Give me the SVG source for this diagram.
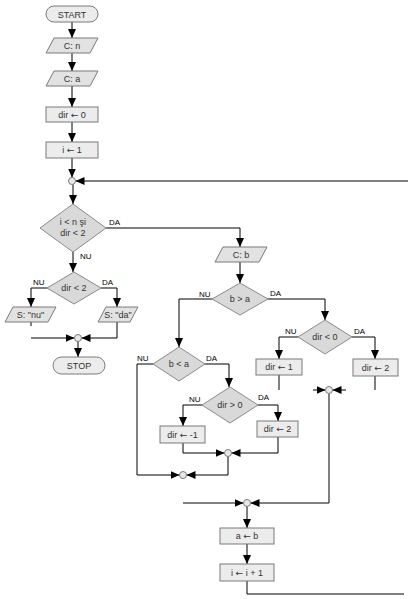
<svg xmlns="http://www.w3.org/2000/svg" width="408" height="599" viewBox="0 0 408 599">
<defs>
<marker id="ah" markerUnits="userSpaceOnUse" markerWidth="10" markerHeight="10" viewBox="-9 -5 10 10" refX="0" refY="0" orient="auto">
<path d="M-9,-4 L0,0 L-9,4 z" fill="#000"/>
</marker>
</defs>
<style>
.bx{fill:#ececec;stroke:#7a7a7a;stroke-width:1}
.pg{fill:#e2e2e2;stroke:#7a7a7a;stroke-width:1}
.dm{fill:#d9d9d9;stroke:#8a8a8a;stroke-width:1}
.tm{fill:#ececec;stroke:#7a7a7a;stroke-width:1}
.jn{fill:#e8e8e8;stroke:#7a7a7a;stroke-width:1}
.t{font-family:"Liberation Sans",Arial,sans-serif;font-size:9px;fill:#333;text-anchor:middle}
.ar{font-family:"DejaVu Sans",sans-serif;font-size:9px}
.lb{font-family:"Liberation Sans",Arial,sans-serif;font-size:8px;fill:#000}
.c{fill:none;stroke:#000;stroke-width:1}
.a{fill:none;stroke:#000;stroke-width:1;marker-end:url(#ah)}
</style>
<rect width="408" height="599" fill="#fff"/>
<g id="connectors">
<path class="a" d="M72,22 V38"/>
<path class="a" d="M72,53 V71"/>
<path class="a" d="M72,86 V107"/>
<path class="a" d="M72,122 V142"/>
<path class="a" d="M72,158 V177.5"/>
<path class="a" d="M408,181 H75.5"/>
<path class="a" d="M73,184.5 V204"/>
<path class="a" d="M106,228 H240 V247"/>
<path class="a" d="M73,252 V272"/>
<path class="a" d="M47,288 H31 V307"/>
<path class="a" d="M101,288 H117 V307"/>
<path class="c" d="M31,322 V326"/>
<path class="a" d="M31,338 H74.5"/>
<path class="a" d="M117,322 V338 H81.5"/>
<path class="a" d="M78,341.5 V357"/>
<path class="a" d="M240,262 V283"/>
<path class="a" d="M212,299 H179 V347"/>
<path class="a" d="M268,299 H325 V320"/>
<path class="a" d="M298,337 H279 V359"/>
<path class="a" d="M352,337 H375 V359"/>
<path class="c" d="M279,375 V390"/>
<path class="c" d="M375,376 V390"/>
<path class="a" d="M313,390 H325.5"/>
<path class="a" d="M346,390 H332.5"/>
<path class="a" d="M329,393.5 V503 H250.5"/>
<path class="a" d="M153,364 H137 V475 H179.5"/>
<path class="a" d="M205,364 H229 V387"/>
<path class="a" d="M202,405 H183 V426"/>
<path class="a" d="M258,405 H278 V421"/>
<path class="a" d="M183,443 V453 H224.5"/>
<path class="a" d="M278,437 V453 H231.5"/>
<path class="a" d="M228,456.5 V475 H186.5"/>
<path class="a" d="M183,503 H243.5"/>
<path class="a" d="M247,506.5 V528"/>
<path class="a" d="M247,544 V564"/>
<path class="c" d="M247,581 V594 H404"/>
</g>
<g id="start"><rect class="tm" x="46" y="6" width="52" height="16" rx="8"/><text class="t" x="72" y="17.5">START</text></g>
<g id="read-n"><polygon class="pg" points="54,38 98,38 90,53 46,53"/><text class="t" x="72" y="48.5">C: n</text></g>
<g id="read-a"><polygon class="pg" points="54,71 98,71 90,86 46,86"/><text class="t" x="72" y="81.5">C: a</text></g>
<g id="dir0"><rect class="bx" x="46" y="107" width="52" height="15"/><text class="t" x="72" y="117.5">dir <tspan class="ar">←</tspan> 0</text></g>
<g id="i1"><rect class="bx" x="46" y="142" width="52" height="16"/><text class="t" x="72" y="153">i <tspan class="ar">←</tspan> 1</text></g>
<g id="j1"><circle class="jn" cx="72" cy="181" r="3.5"/></g>
<g id="cond1"><polygon class="dm" points="73,204 106,228 73,252 40,228"/><text class="t" x="73" y="225">i &lt; n şi</text><text class="t" x="73" y="236">dir &lt; 2</text><text class="lb" x="109" y="225">DA</text><text class="lb" x="80" y="259">NU</text></g>
<g id="cond2"><polygon class="dm" points="74,272 101,288 74,304 47,288"/><text class="t" x="74" y="291">dir &lt; 2</text><text class="lb" x="33" y="285">NU</text><text class="lb" x="102" y="285">DA</text></g>
<g id="out-nu"><polygon class="pg" points="13,307 56,307 48,322 5,322"/><text class="t" x="30.5" y="317.5">S: "nu"</text></g>
<g id="out-da"><polygon class="pg" points="106,307 138,307 130,322 98,322"/><text class="t" x="118" y="317.5">S: "da"</text></g>
<g id="j2"><circle class="jn" cx="78" cy="338" r="3.5"/></g>
<g id="stop"><rect class="tm" x="53" y="357" width="52" height="17" rx="8.5"/><text class="t" x="79" y="368.5">STOP</text></g>
<g id="read-b"><polygon class="pg" points="223,247 267,247 259,262 215,262"/><text class="t" x="241" y="257.5">C: b</text></g>
<g id="cond-bga"><polygon class="dm" points="240,283 268,299 240,315 212,299"/><text class="t" x="240" y="302">b &gt; a</text><text class="lb" x="199" y="297">NU</text><text class="lb" x="270" y="296">DA</text></g>
<g id="cond-dirlt0"><polygon class="dm" points="325,320 352,337 325,354 298,337"/><text class="t" x="325" y="340">dir &lt; 0</text><text class="lb" x="285" y="334">NU</text><text class="lb" x="354" y="334">DA</text></g>
<g id="dir1"><rect class="bx" x="256" y="359" width="46" height="16"/><text class="t" x="279" y="370">dir <tspan class="ar">←</tspan> 1</text></g>
<g id="dir2a"><rect class="bx" x="353" y="359" width="45" height="17"/><text class="t" x="375.5" y="370.5">dir <tspan class="ar">←</tspan> 2</text></g>
<g id="j3"><circle class="jn" cx="329" cy="390" r="3.5"/></g>
<g id="cond-blta"><polygon class="dm" points="179,347 205,364 179,381 153,364"/><text class="t" x="179" y="367">b &lt; a</text><text class="lb" x="137" y="361">NU</text><text class="lb" x="206" y="361">DA</text></g>
<g id="cond-dirgt0"><polygon class="dm" points="230,387 258,405 230,423 202,405"/><text class="t" x="230" y="408">dir &gt; 0</text><text class="lb" x="189" y="402">NU</text><text class="lb" x="258" y="400">DA</text></g>
<g id="dirm1"><rect class="bx" x="160" y="426" width="45" height="17"/><text class="t" x="182.5" y="437.5">dir <tspan class="ar">←</tspan> -1</text></g>
<g id="dir2b"><rect class="bx" x="257" y="421" width="41" height="16"/><text class="t" x="277.5" y="432">dir <tspan class="ar">←</tspan> 2</text></g>
<g id="j4"><circle class="jn" cx="228" cy="453" r="3.5"/></g>
<g id="j5"><circle class="jn" cx="183" cy="475" r="3.5"/></g>
<g id="j6"><circle class="jn" cx="247" cy="503" r="3.5"/></g>
<g id="ab"><rect class="bx" x="220" y="528" width="54" height="16"/><text class="t" x="247" y="539">a <tspan class="ar">←</tspan> b</text></g>
<g id="inc"><rect class="bx" x="220" y="564" width="54" height="17"/><text class="t" x="247" y="575.5">i <tspan class="ar">←</tspan> i + 1</text></g>
</svg>
